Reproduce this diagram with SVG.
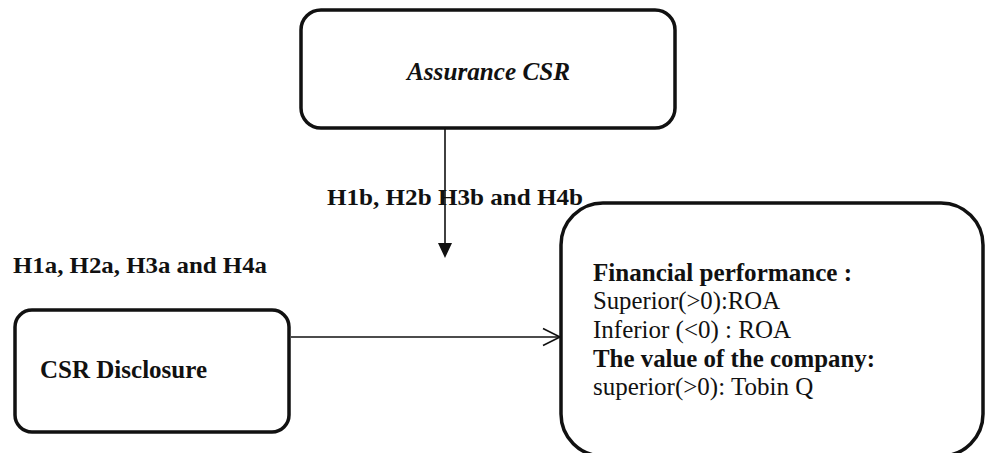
<svg xmlns="http://www.w3.org/2000/svg" width="986" height="453" viewBox="0 0 986 453">
  <style>
    .box { fill: #ffffff; stroke: #111111; stroke-width: 3.5; }
    .link { stroke: #111111; stroke-width: 1.6; fill: none; }
    text { font-family: "Liberation Serif", "Times New Roman", serif; fill: #111111; }
    .b { font-weight: bold; }
    .bi { font-weight: bold; font-style: italic; }
  </style>
  <defs>
    <marker id="tri" viewBox="0 0 14 15" refX="7" refY="15" markerWidth="14" markerHeight="15" markerUnits="userSpaceOnUse" orient="auto-start-reverse">
      <path d="M0,0 L14,0 L7,15 Z" fill="#111111"/>
    </marker>
  </defs>

  <!-- connectors -->
  <g id="connectors">
    <line class="link" x1="445" y1="129" x2="445" y2="243"/>
    <path d="M438,243 L452,243 L445,258 Z" fill="#111111"/>
    <line class="link" x1="291" y1="337" x2="560" y2="337"/>
    <polyline class="link" points="543,328.5 560,337 543,345.5"/>
  </g>

  <!-- moderator -->
  <g id="assurance">
    <rect class="box" x="301" y="10" width="374" height="118" rx="20" ry="20"/>
    <text class="bi" x="407" y="80" font-size="25" textLength="163" lengthAdjust="spacingAndGlyphs">Assurance CSR</text>
  </g>

  <g id="label-b">
    <text class="b" x="327" y="205" font-size="24" textLength="256" lengthAdjust="spacingAndGlyphs">H1b, H2b H3b and H4b</text>
  </g>

  <g id="label-a">
    <text class="b" x="13" y="273" font-size="24" textLength="254" lengthAdjust="spacingAndGlyphs">H1a, H2a, H3a and H4a</text>
  </g>

  <!-- independent variable -->
  <g id="disclosure">
    <rect class="box" x="15" y="310" width="274" height="122" rx="17" ry="17"/>
    <text class="b" x="40" y="378" font-size="25" textLength="167" lengthAdjust="spacingAndGlyphs">CSR Disclosure</text>
  </g>

  <!-- dependent variables -->
  <g id="performance">
    <rect class="box" x="561" y="203" width="422" height="253" rx="42" ry="42"/>
    <text class="b" x="593" y="281" font-size="25" textLength="259" lengthAdjust="spacingAndGlyphs">Financial performance :</text>
    <text x="593" y="309" font-size="25" textLength="187" lengthAdjust="spacingAndGlyphs">Superior(&gt;0):ROA</text>
    <text x="593" y="338" font-size="25">Inferior (&lt;0) : ROA</text>
    <text class="b" x="593" y="367" font-size="25" textLength="282" lengthAdjust="spacingAndGlyphs">The value of the company:</text>
    <text x="593" y="395" font-size="25">superior(&gt;0): Tobin Q</text>
  </g>
</svg>
